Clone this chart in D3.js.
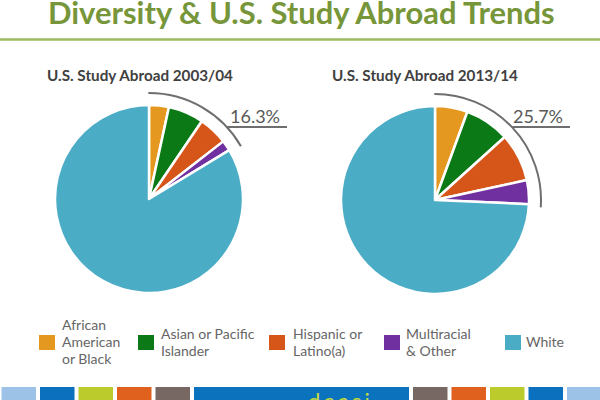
<!DOCTYPE html>
<html>
<head>
<meta charset="utf-8">
<script src="https://cdn.jsdelivr.net/npm/d3@7"></script>
<style>
  html, body { margin: 0; padding: 0; background: #ffffff; }
  svg { display: block; }
  text { font-family: Lato, "Open Sans", sans-serif; }
</style>
</head>
<body>
<svg id="chart" width="600" height="400"></svg>
<script>
// ---------- data ----------
const titleText = "Diversity & U.S. Study Abroad Trends";
const categories = ["African American or Black", "Asian or Pacific Islander", "Hispanic or Latino(a)", "Multiracial & Other", "White"];
const legendLines = [["African", "American", "or Black"], ["Asian or Pacific", "Islander"], ["Hispanic or", "Latino(a)"], ["Multiracial", "& Other"], ["White"]];
const colors = ["#E5981F", "#0B7A16", "#D6561A", "#7030A0", "#4BACC6"];
const pieTitles = ["U.S. Study Abroad 2003/04", "U.S. Study Abroad 2013/14"];
const values2003 = [3.4, 6.1, 5.0, 1.8, 83.7];
const values2013 = [5.6, 7.7, 8.3, 4.1, 74.3];
const minorityLabels = ["16.3%", "25.7%"];
const bannerColors = ["#9CC2E8", "#0B70BE", "#BCCB2C", "#E0601E", "#786863", "#0B72BD", "#786863", "#E0601E", "#BCCB2C", "#0B70BE", "#9CC2E8"];

// ---------- helpers ----------
const svg = d3.select("#chart");
svg.append("rect").attr("width", 600).attr("height", 400).attr("fill", "#ffffff");

function fit(sel, width) {
  const fs = parseFloat(sel.attr("font-size"));
  const w = sel.node().getComputedTextLength();
  sel.attr("font-size", (fs * width / w).toFixed(2));
  return sel;
}

// ---------- title ----------
fit(svg.append("text")
  .attr("x", 48).attr("y", 24)
  .attr("font-size", 30).attr("font-weight", 700)
  .attr("fill", "#77963A")
  .text(titleText), 507);

svg.append("line")
  .attr("x1", 0).attr("x2", 600).attr("y1", 39.5).attr("y2", 39.5)
  .attr("stroke", "#9DBB61").attr("stroke-width", 2.5);

// ---------- pies ----------
const pies = [
  { values: values2003, cx: 149, cy: 199, titleX: 47, titleW: 186, lineEnd: 287 },
  { values: values2013, cx: 435, cy: 200, titleX: 332, titleW: 186, lineEnd: 570 }
];
const radius = 94;
const pieGen = d3.pie().sort(null).value(d => d).startAngle(0).endAngle(2 * Math.PI);
const arcGen = d3.arc().innerRadius(0).outerRadius(radius);

pies.forEach((p, i) => {
  fit(svg.append("text")
    .attr("x", p.titleX).attr("y", 81)
    .attr("font-size", 15).attr("font-weight", 700)
    .attr("fill", "#404040")
    .text(pieTitles[i]), p.titleW);

  const g = svg.append("g").attr("transform", `translate(${p.cx},${p.cy})`);
  g.selectAll("path.slice")
    .data(pieGen(p.values))
    .join("path")
    .attr("class", "slice")
    .attr("d", arcGen)
    .attr("fill", (d, j) => colors[j])
    .attr("stroke", "#ffffff")
    .attr("stroke-width", 2.5)
    .attr("stroke-linejoin", "round");

  // bracket arc around the minority share
  const minority = d3.sum(p.values.slice(0, 4));
  const ang = d3.scaleLinear().domain([0, 100]).range([0, 2 * Math.PI]);
  const R = 106;
  const bracket = d3.arc().innerRadius(R).outerRadius(R)
    .startAngle(ang(-0.1)).endAngle(ang(minority + 0.4));
  g.append("path")
    .attr("d", bracket())
    .attr("fill", "none")
    .attr("stroke", "#6E6E6E")
    .attr("stroke-width", 2);

  const lineY = 127;
  const dy = p.cy - lineY;
  const x0 = p.cx + Math.sqrt(R * R - dy * dy);
  svg.append("line")
    .attr("x1", x0).attr("x2", p.lineEnd)
    .attr("y1", lineY).attr("y2", lineY)
    .attr("stroke", "#6E6E6E").attr("stroke-width", 2);

  fit(svg.append("text")
    .attr("x", p.lineEnd - 57).attr("y", 123)
    .attr("font-size", 19)
    .attr("fill", "#595959")
    .text(minorityLabels[i]), 50);
});

// ---------- legend ----------
const legendX = [39, 138, 269, 384, 505];
const legendTextX = [62, 161, 293, 406, 526];
const lineH = 17;
categories.forEach((c, i) => {
  svg.append("rect")
    .attr("x", legendX[i]).attr("y", 335)
    .attr("width", 16).attr("height", 15)
    .attr("fill", colors[i]);
  const lines = legendLines[i];
  const firstY = 347 - (lines.length - 1) * lineH / 2;
  const t = svg.append("text")
    .attr("font-size", 14)
    .attr("fill", "#666666");
  lines.forEach((ln, k) => {
    t.append("tspan")
      .attr("x", legendTextX[i])
      .attr("y", firstY + k * lineH)
      .text(ln);
  });
});

// ---------- decorative banner ----------
const tileW = bannerColors.map((c, i) => i === 5 ? 215 : 34.5);
let bx = 1.5;
const bannerG = svg.append("g");
bannerColors.forEach((c, i) => {
  bannerG.append("rect")
    .attr("x", bx).attr("y", 387)
    .attr("width", tileW[i]).attr("height", 14)
    .attr("fill", c);
  bx += tileW[i] + 4;
});
svg.append("defs").append("clipPath").attr("id", "bclip")
  .append("rect").attr("x", 0).attr("y", 387).attr("width", 600).attr("height", 13);
svg.append("text")
  .attr("clip-path", "url(#bclip)")
  .attr("x", 308).attr("y", 409)
  .attr("font-size", 22)
  .attr("letter-spacing", 3)
  .attr("fill", "#C7DA3C")
  .text("deasi");
</script>
</body>
</html>
